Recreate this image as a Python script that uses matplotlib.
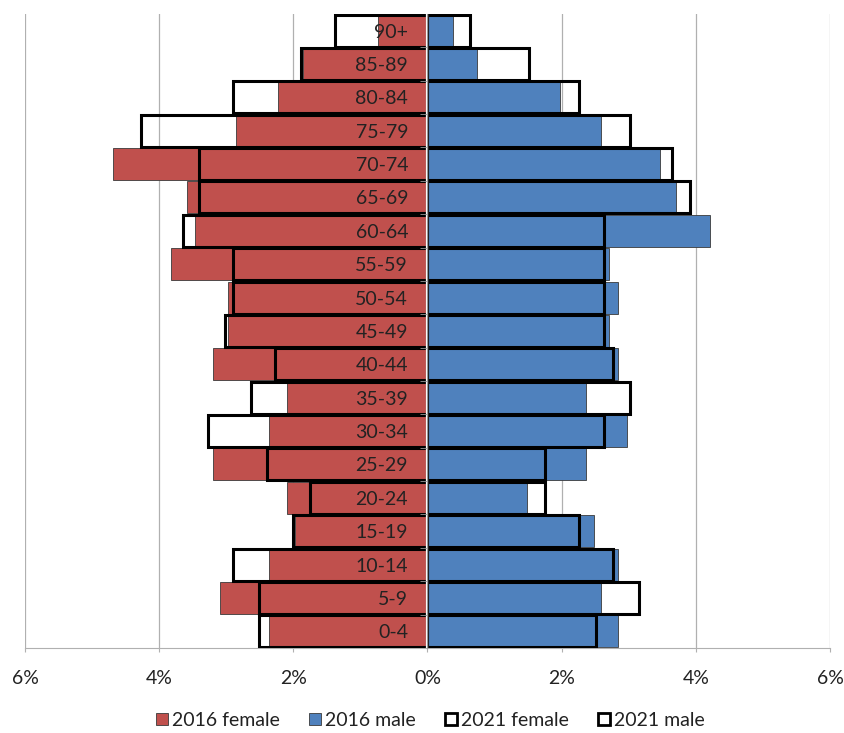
"""Population pyramid: 2016 vs 2021 age structure by sex."""

from __future__ import annotations

import matplotlib

matplotlib.use("Agg")
import matplotlib.pyplot as plt
import numpy as np
from matplotlib.patches import Patch
from matplotlib.ticker import FixedLocator, FuncFormatter

AGE_GROUPS = ["0-4", "5-9", "10-14", "15-19", "20-24", "25-29", "30-34", "35-39", "40-44",
              "45-49", "50-54", "55-59", "60-64", "65-69", "70-74", "75-79", "80-84", "85-89", "90+"]
FEMALE_2016 = [2.36, 3.10, 2.36, 1.98, 2.10, 3.20, 2.36, 2.10, 3.20, 2.97,
               2.97, 3.82, 3.46, 3.58, 4.69, 2.85, 2.23, 1.85, 0.74]
MALE_2016 = [2.84, 2.59, 2.84, 2.48, 1.48, 2.36, 2.97, 2.36, 2.84, 2.71,
             2.84, 2.71, 4.21, 3.71, 3.46, 2.59, 1.97, 0.74, 0.38]
FEMALE_2021 = [2.51, 2.51, 2.90, 2.00, 1.75, 2.39, 3.27, 2.63, 2.27, 3.02,
               2.90, 2.90, 3.65, 3.40, 3.40, 4.27, 2.90, 1.88, 1.38]
MALE_2021 = [2.51, 3.15, 2.76, 2.26, 1.75, 1.75, 2.63, 3.02, 2.76, 2.63,
             2.63, 2.63, 2.63, 3.91, 3.65, 3.02, 2.26, 1.52, 0.63]
X_TICKS = [-6, -4, -2, 0, 2, 4, 6]
LEGEND_LABELS = ["2016 female", "2016 male", "2021 female", "2021 male"]

RED = "#C0504D"
BLUE = "#4F81BD"
GRID = "#b0b0b0"
TEXT = "#222222"


def main() -> None:
    plt.rcParams["font.family"] = ["Lato", "DejaVu Sans"]
    fig = plt.figure(figsize=(8.45, 7.33), dpi=100)
    ax = fig.add_axes([0.0296, 0.116, 0.9526, 0.865])

    y = np.arange(len(AGE_GROUPS))
    height = 0.96
    female16 = -np.asarray(FEMALE_2016)
    female21 = -np.asarray(FEMALE_2021)

    ax.barh(y, female16, height=height, color=RED, edgecolor="#3a3a3a", linewidth=0.6, zorder=2)
    ax.barh(y, MALE_2016, height=height, color=BLUE, edgecolor="#3a3a3a", linewidth=0.6, zorder=2)
    ax.barh(y, female21, height=height, fill=False, edgecolor="black", linewidth=2.2, zorder=3)
    ax.barh(y, MALE_2021, height=height, fill=False, edgecolor="black", linewidth=2.2, zorder=3)
    # hide the 2021 outline edges sitting on the zero line, as in the original
    ax.axvline(0, color="white", linewidth=1.6, zorder=3.5)

    ax.set_xlim(-6, 6)
    ax.set_ylim(-0.5, len(AGE_GROUPS) - 0.5)
    ax.set_xticks(X_TICKS)
    ax.xaxis.set_major_formatter(FuncFormatter(lambda v, _: f"{abs(v):.0f}%"))
    ax.tick_params(axis="x", length=3, color=GRID, pad=13, labelsize=14, labelcolor=TEXT)
    ax.grid(axis="x", color=GRID, linewidth=0.9, zorder=0)
    ax.set_axisbelow(True)

    ax.spines["left"].set_position(("data", 0))
    ax.spines["left"].set_color("#9a9a9a")
    ax.spines["left"].set_zorder(4)
    ax.spines["bottom"].set_color(GRID)
    ax.spines["top"].set_visible(False)
    ax.spines["right"].set_visible(False)

    # category labels sit on top of the bars, left of the zero axis
    ax.yaxis.set_zorder(5)
    ax.set_yticks(y)
    ax.set_yticklabels(AGE_GROUPS)
    ax.yaxis.set_minor_locator(FixedLocator(y[1:] - 0.5))
    ax.tick_params(axis="y", which="major", length=0, pad=14, labelsize=14, labelcolor=TEXT)
    ax.tick_params(axis="y", which="minor", length=5, color="#9a9a9a")

    handles = [
        Patch(facecolor=RED, edgecolor="#3a3a3a", linewidth=0.6),
        Patch(facecolor=BLUE, edgecolor="#3a3a3a", linewidth=0.6),
        Patch(facecolor="white", edgecolor="black", linewidth=2.0),
        Patch(facecolor="white", edgecolor="black", linewidth=2.0),
    ]
    fig.legend(handles, LEGEND_LABELS, loc="center", bbox_to_anchor=(0.509, 0.017), ncol=4,
               frameon=False, fontsize=14, handlelength=0.62, handleheight=0.62,
               handletextpad=0.2, columnspacing=1.5, labelcolor=TEXT)

    fig.savefig("out.png", dpi=100)
    plt.close(fig)


if __name__ == "__main__":
    main()
